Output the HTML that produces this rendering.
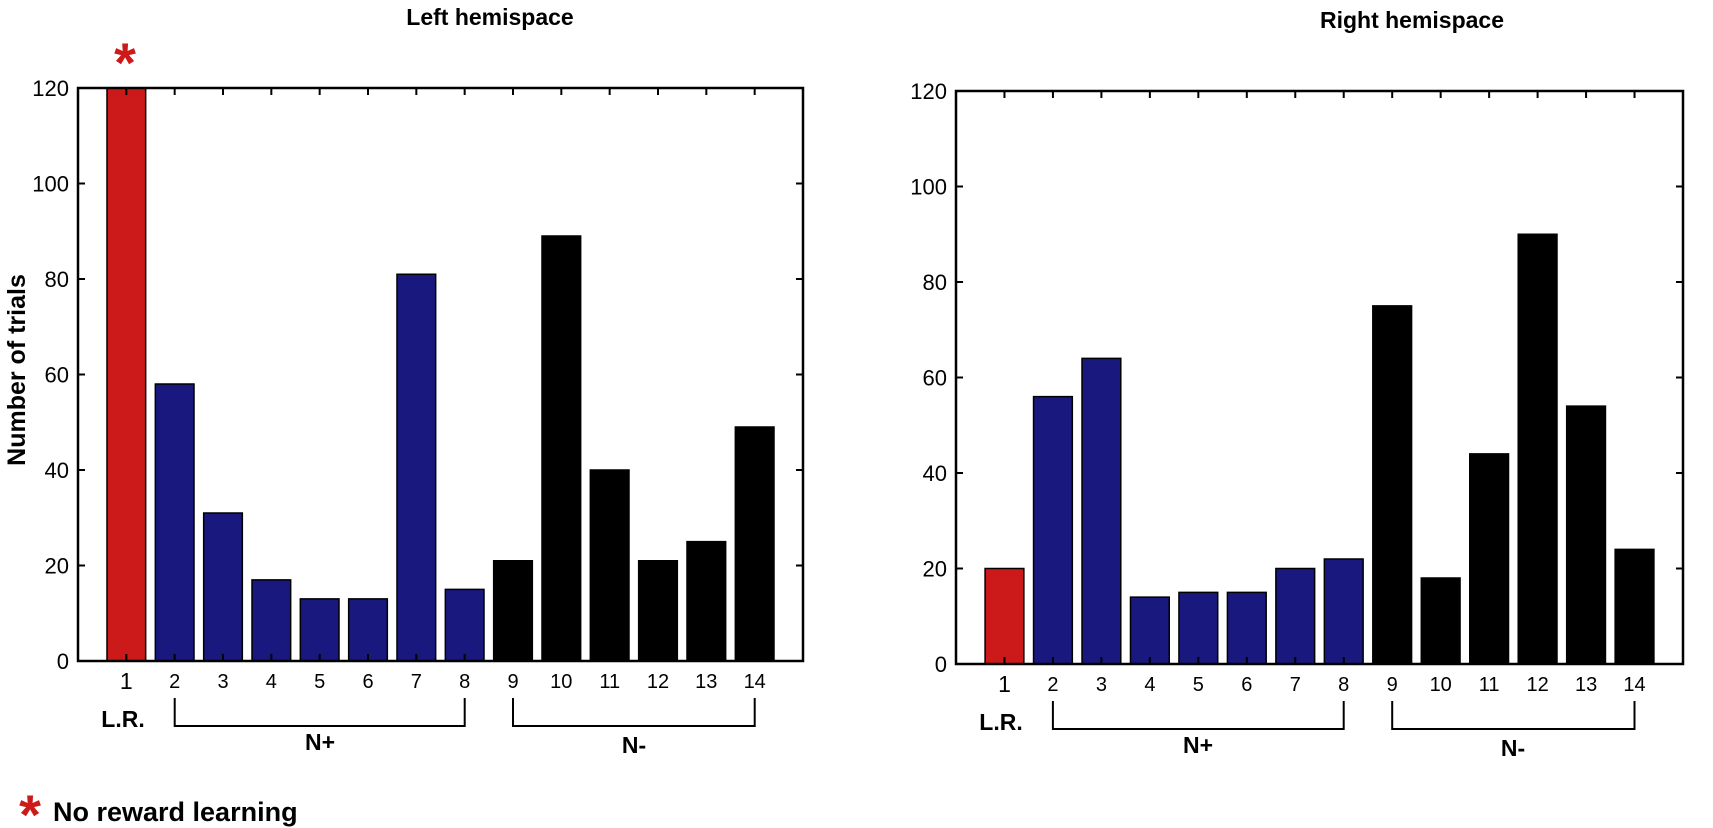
<!DOCTYPE html>
<html><head><meta charset="utf-8"><style>
html,body{margin:0;padding:0;background:#fff;}
svg{display:block;font-family:"Liberation Sans",sans-serif;}
</style></head><body>
<svg width="1713" height="828" viewBox="0 0 1713 828" xmlns="http://www.w3.org/2000/svg">
<defs>
<g id="ticks" stroke="#000" stroke-width="2" vector-effect="non-scaling-stroke">
<path vector-effect="non-scaling-stroke" d="M1 0V1.47M2 0V1.47M3 0V1.47M4 0V1.47M5 0V1.47M6 0V1.47M7 0V1.47M8 0V1.47M9 0V1.47M10 0V1.47M11 0V1.47M12 0V1.47M13 0V1.47M14 0V1.47
M1 120V118.53M2 120V118.53M3 120V118.53M4 120V118.53M5 120V118.53M6 120V118.53M7 120V118.53M8 120V118.53M9 120V118.53M10 120V118.53M11 120V118.53M12 120V118.53M13 120V118.53M14 120V118.53
M0 20H0.145M0 40H0.145M0 60H0.145M0 80H0.145M0 100H0.145
M15 20H14.855M15 40H14.855M15 60H14.855M15 80H14.855M15 100H14.855"/>
<rect x="0" y="0" width="15" height="120" fill="none" stroke-width="2.5" vector-effect="non-scaling-stroke"/>
</g>
</defs>

<!-- LEFT chart -->
<g transform="translate(78,661) scale(48.333,-4.775)" stroke="#000" stroke-width="1.5">
<rect vector-effect="non-scaling-stroke" x="0.6" y="0" width="0.8" height="120" fill="#cc1a1a"/>
<rect vector-effect="non-scaling-stroke" x="1.6" y="0" width="0.8" height="58" fill="#18187e"/>
<rect vector-effect="non-scaling-stroke" x="2.6" y="0" width="0.8" height="31" fill="#18187e"/>
<rect vector-effect="non-scaling-stroke" x="3.6" y="0" width="0.8" height="17" fill="#18187e"/>
<rect vector-effect="non-scaling-stroke" x="4.6" y="0" width="0.8" height="13" fill="#18187e"/>
<rect vector-effect="non-scaling-stroke" x="5.6" y="0" width="0.8" height="13" fill="#18187e"/>
<rect vector-effect="non-scaling-stroke" x="6.6" y="0" width="0.8" height="81" fill="#18187e"/>
<rect vector-effect="non-scaling-stroke" x="7.6" y="0" width="0.8" height="15" fill="#18187e"/>
<rect vector-effect="non-scaling-stroke" x="8.6" y="0" width="0.8" height="21" fill="#000"/>
<rect vector-effect="non-scaling-stroke" x="9.6" y="0" width="0.8" height="89" fill="#000"/>
<rect vector-effect="non-scaling-stroke" x="10.6" y="0" width="0.8" height="40" fill="#000"/>
<rect vector-effect="non-scaling-stroke" x="11.6" y="0" width="0.8" height="21" fill="#000"/>
<rect vector-effect="non-scaling-stroke" x="12.6" y="0" width="0.8" height="25" fill="#000"/>
<rect vector-effect="non-scaling-stroke" x="13.6" y="0" width="0.8" height="49" fill="#000"/>
<use href="#ticks"/>
</g>
<g font-size="22" text-anchor="end">
<text x="69" y="669">0</text><text x="69" y="573.5">20</text><text x="69" y="478">40</text><text x="69" y="382.5">60</text><text x="69" y="287">80</text><text x="69" y="191.5">100</text><text x="69" y="96">120</text>
</g>
<g font-size="20" text-anchor="middle">
<text x="126.3" y="689" font-size="23">1</text><text x="174.7" y="688">2</text><text x="223" y="688">3</text><text x="271.3" y="688">4</text><text x="319.7" y="688">5</text><text x="368" y="688">6</text><text x="416.3" y="688">7</text><text x="464.7" y="688">8</text><text x="513" y="688">9</text><text x="561.3" y="688">10</text><text x="609.7" y="688">11</text><text x="658" y="688">12</text><text x="706.3" y="688">13</text><text x="754.7" y="688">14</text>
</g>
<path d="M174.7 698V726H464.7V698M513 698V726H754.7V698" fill="none" stroke="#000" stroke-width="2"/>
<g font-size="23" font-weight="bold" text-anchor="middle">
<text x="123" y="727">L.R.</text><text x="320" y="750">N+</text><text x="634" y="753">N-</text>
</g>

<!-- RIGHT chart -->
<g transform="translate(956,664) scale(48.467,-4.775)" stroke="#000" stroke-width="1.5">
<rect vector-effect="non-scaling-stroke" x="0.6" y="0" width="0.8" height="20" fill="#cc1a1a"/>
<rect vector-effect="non-scaling-stroke" x="1.6" y="0" width="0.8" height="56" fill="#18187e"/>
<rect vector-effect="non-scaling-stroke" x="2.6" y="0" width="0.8" height="64" fill="#18187e"/>
<rect vector-effect="non-scaling-stroke" x="3.6" y="0" width="0.8" height="14" fill="#18187e"/>
<rect vector-effect="non-scaling-stroke" x="4.6" y="0" width="0.8" height="15" fill="#18187e"/>
<rect vector-effect="non-scaling-stroke" x="5.6" y="0" width="0.8" height="15" fill="#18187e"/>
<rect vector-effect="non-scaling-stroke" x="6.6" y="0" width="0.8" height="20" fill="#18187e"/>
<rect vector-effect="non-scaling-stroke" x="7.6" y="0" width="0.8" height="22" fill="#18187e"/>
<rect vector-effect="non-scaling-stroke" x="8.6" y="0" width="0.8" height="75" fill="#000"/>
<rect vector-effect="non-scaling-stroke" x="9.6" y="0" width="0.8" height="18" fill="#000"/>
<rect vector-effect="non-scaling-stroke" x="10.6" y="0" width="0.8" height="44" fill="#000"/>
<rect vector-effect="non-scaling-stroke" x="11.6" y="0" width="0.8" height="90" fill="#000"/>
<rect vector-effect="non-scaling-stroke" x="12.6" y="0" width="0.8" height="54" fill="#000"/>
<rect vector-effect="non-scaling-stroke" x="13.6" y="0" width="0.8" height="24" fill="#000"/>
<use href="#ticks"/>
</g>
<g font-size="22" text-anchor="end">
<text x="947" y="672">0</text><text x="947" y="576.5">20</text><text x="947" y="481">40</text><text x="947" y="385.5">60</text><text x="947" y="290">80</text><text x="947" y="194.5">100</text><text x="947" y="99">120</text>
</g>
<g font-size="20" text-anchor="middle">
<text x="1004.5" y="692" font-size="23">1</text><text x="1052.9" y="691">2</text><text x="1101.4" y="691">3</text><text x="1149.9" y="691">4</text><text x="1198.3" y="691">5</text><text x="1246.8" y="691">6</text><text x="1295.3" y="691">7</text><text x="1343.7" y="691">8</text><text x="1392.2" y="691">9</text><text x="1440.7" y="691">10</text><text x="1489.1" y="691">11</text><text x="1537.6" y="691">12</text><text x="1586.1" y="691">13</text><text x="1634.5" y="691">14</text>
</g>
<path d="M1052.9 701V729H1343.7V701M1392.2 701V729H1634.5V701" fill="none" stroke="#000" stroke-width="2"/>
<g font-size="23" font-weight="bold" text-anchor="middle">
<text x="1001" y="730">L.R.</text><text x="1198" y="753">N+</text><text x="1513" y="756">N-</text>
</g>

<text x="490" y="25" font-size="23" font-weight="bold" text-anchor="middle">Left hemispace</text>
<text x="1412" y="28" font-size="23" font-weight="bold" text-anchor="middle">Right hemispace</text>
<text transform="translate(25,370) rotate(-90)" font-size="25" font-weight="bold" text-anchor="middle">Number of trials</text>
<text x="125" y="82" font-size="56" font-weight="bold" fill="#cc1a1a" text-anchor="middle">*</text>
<text x="30" y="834" font-size="56" font-weight="bold" fill="#cc1a1a" text-anchor="middle">*</text>
<text x="53" y="821" font-size="27" font-weight="bold">No reward learning</text>
</svg>
</body></html>
